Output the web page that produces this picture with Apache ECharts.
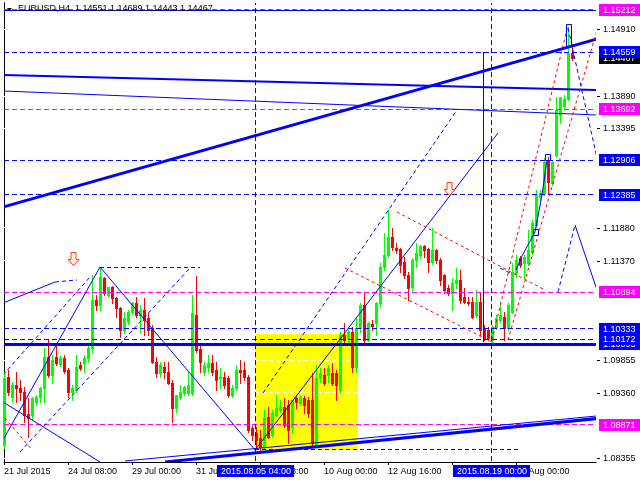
<!DOCTYPE html>
<html><head><meta charset="utf-8">
<script src="https://cdn.jsdelivr.net/npm/echarts@6/dist/echarts.min.js"></script>
<style>html,body{margin:0;padding:0;background:#fff}#c{width:640px;height:480px}</style>
</head><body><div id="c"></div>
<script>
// ---------- data ----------
const symbol = 'EURUSD,H4';
const openP = [
1.08558,1.09597,1.09292,1.09475,1.09429,1.09368,1.09032,1.09017,1.09215,1.09292,
1.09429,1.09903,1.09628,1.09903,1.09796,1.09888,1.09704,1.09368,1.09399,1.09781,
1.09811,1.09888,1.10041,1.10774,1.10698,1.11110,1.10850,1.10973,1.10805,1.10652,
1.10316,1.10438,1.10591,1.10728,1.10545,1.10621,1.10499,1.10346,1.09827,1.09659,
1.09750,1.09674,1.09506,1.09124,1.09292,1.09353,1.09353,1.09353,1.10545,1.10025,
1.09674,1.09750,1.09811,1.09704,1.09582,1.09597,1.09582,1.09322,1.09429,1.09704,
1.09704,1.09597,1.08818,1.08742,1.08665,1.08528,1.08986,1.08711,1.09017,1.09093,
1.09139,1.09170,1.08833,1.09277,1.09200,1.09277,1.09246,1.09246,1.08558,1.09582,
1.09628,1.09628,1.09659,1.09659,1.09399,1.10239,1.10193,1.10285,1.09750,1.10346,
1.10698,1.10163,1.10407,1.10423,1.10728,1.11278,1.11462,1.11737,1.11569,1.11553,
1.11355,1.11156,1.10973,1.11385,1.11462,1.11599,1.11553,1.11355,1.11538,1.11385,
1.11156,1.10957,1.10881,1.11034,1.11080,1.10820,1.10743,1.10743,1.10545,1.10743,
1.10346,1.10316,1.10163,1.10361,1.10468,1.10514,1.10346,1.10591,1.11187,1.11416,
1.11339,1.11339,1.11507,1.11920,1.12348,1.12409,1.12913,1.12562,1.12990,1.13601,
1.13738,1.13845,1.14551];
const highP = [
1.09674,1.09704,1.09521,1.09674,1.09552,1.09445,1.09277,1.09292,1.09322,1.09445,
1.10041,1.10163,1.09934,1.10086,1.09918,1.09934,1.09735,1.09475,1.09934,1.09827,
1.09934,1.10117,1.11156,1.10850,1.11278,1.11125,1.10973,1.10988,1.10820,1.10667,
1.10591,1.10621,1.10743,1.10820,1.10698,1.10805,1.10575,1.10392,1.09903,1.09827,
1.09827,1.09827,1.09552,1.09215,1.09475,1.09460,1.09674,1.10850,1.11141,1.10086,
1.09827,1.09934,1.09934,1.09827,1.09735,1.09674,1.09613,1.09475,1.09781,1.09857,
1.09827,1.09628,1.08849,1.08833,1.08788,1.09093,1.09139,1.09093,1.09322,1.09246,
1.09277,1.09246,1.09246,1.09322,1.09322,1.09307,1.09292,1.09659,1.09781,1.09735,
1.09735,1.09781,1.09811,1.09704,1.10285,1.10423,1.10316,1.10361,1.10499,1.10728,
1.10896,1.10438,1.10468,1.10743,1.11339,1.11798,1.12149,1.11874,1.11645,1.11569,
1.11431,1.11202,1.11416,1.11645,1.11614,1.11614,1.11569,1.11874,1.11553,1.11416,
1.11171,1.11003,1.11110,1.11263,1.11232,1.10957,1.10820,1.10820,1.10927,1.10896,
1.10392,1.10361,1.10392,1.10545,1.10743,1.10591,1.10728,1.11339,1.11462,1.11446,
1.11462,1.11844,1.11996,1.12455,1.12455,1.12944,1.12959,1.12913,1.13876,1.13876,
1.13906,1.14945,1.14689];
const lowP = [
1.08513,1.09322,1.09215,1.09215,1.09246,1.08910,1.08681,1.08940,1.09170,1.09215,
1.09215,1.09597,1.09506,1.09781,1.09766,1.09659,1.09292,1.09246,1.09368,1.09704,
1.09674,1.09827,1.09979,1.10621,1.10621,1.10850,1.10820,1.10728,1.10514,1.10209,
1.10270,1.10407,1.10560,1.10514,1.10285,1.10239,1.10239,1.09811,1.09597,1.09597,
1.09582,1.09490,1.08910,1.09063,1.09261,1.09322,1.09322,1.09322,1.09979,1.09674,
1.09628,1.09674,1.09628,1.09399,1.09429,1.09429,1.09292,1.09292,1.09399,1.09506,
1.09552,1.08757,1.08635,1.08513,1.08482,1.08513,1.08665,1.08681,1.09002,1.09063,
1.08833,1.08589,1.08742,1.09124,1.09170,1.09047,1.08986,1.08558,1.08528,1.09521,
1.09475,1.09521,1.09475,1.09246,1.09368,1.10117,1.10117,1.09674,1.09674,1.10285,
1.10117,1.10148,1.10316,1.10239,1.10667,1.11232,1.11431,1.11538,1.11492,1.11202,
1.11110,1.10774,1.10896,1.11278,1.11416,1.11431,1.11202,1.11324,1.11339,1.11003,
1.10881,1.10850,1.10621,1.10957,1.10728,1.10728,1.10698,1.10499,1.10514,1.10239,
1.10163,1.10163,1.10117,1.10331,1.10438,1.10163,1.10316,1.10575,1.11125,1.11278,
1.11110,1.11309,1.11477,1.11889,1.12302,1.12378,1.12409,1.12531,1.12959,1.13479,
1.13708,1.13830,1.14443];
const closeP = [
1.09582,1.09368,1.09475,1.09429,1.09368,1.09017,1.08971,1.09277,1.09292,1.09429,
1.09903,1.09628,1.09857,1.09811,1.09888,1.09689,1.09368,1.09429,1.09750,1.09735,
1.09888,1.10041,1.10774,1.10698,1.11125,1.10881,1.10973,1.10805,1.10652,1.10316,
1.10499,1.10591,1.10728,1.10545,1.10621,1.10468,1.10316,1.09827,1.09659,1.09781,
1.09674,1.09506,1.09124,1.09322,1.09368,1.09445,1.09475,1.10575,1.10010,1.09827,
1.09781,1.09811,1.09674,1.09552,1.09597,1.09475,1.09322,1.09429,1.09704,1.09674,
1.09597,1.08788,1.08711,1.08635,1.08528,1.08971,1.08681,1.09047,1.09124,1.09139,
1.08864,1.08788,1.09246,1.09215,1.09292,1.09170,1.09047,1.08589,1.09582,1.09659,
1.09506,1.09735,1.09506,1.09475,1.10239,1.10163,1.10285,1.09750,1.10346,1.10698,
1.10163,1.10423,1.10377,1.10728,1.11278,1.11462,1.11737,1.11584,1.11538,1.11309,
1.11156,1.10957,1.11385,1.11492,1.11599,1.11538,1.11355,1.11538,1.11385,1.11080,
1.10927,1.10881,1.11034,1.11080,1.10774,1.10743,1.10728,1.10514,1.10743,1.10316,
1.10193,1.10193,1.10361,1.10499,1.10545,1.10346,1.10698,1.11202,1.11385,1.11309,
1.11431,1.11538,1.11951,1.12378,1.12409,1.12883,1.12577,1.12883,1.13677,1.13876,
1.13845,1.14548,1.14467];

// x axis: H4 bars from 21 Jul 2015 16:00, plus empty bars on the right (chart shift)
const futureBars = 6;
const xTickEvery = 16;
const xTickLabels = ['21 Jul 2015','24 Jul 08:00','29 Jul 00:00','31 Jul 16:00','5 Aug 08:00',
                     '10 Aug 00:00','12 Aug 16:00','17 Aug 08:00','20 Aug 00:00'];
// y axis tick labels
const priceTicks = [1.14910,1.13890,1.13395,1.11880,1.11370,1.09855,1.09360,1.08355];
// horizontal levels
const magentaLevels = [1.15212,1.13692,1.10894,1.08871];
const blueDashLevels = [1.14559,1.12906,1.12385,1.10333,1.10172];
const blueThickLevels = [1.10095];
const blueThinLevels = [1.15190];
const currentPrice = closeP[closeP.length-1];
// vertical lines (bar index) and their time labels
const vLineBars = [62.75,121.75];
const vLineTimes = ['2015.08.05 04:00','2015.08.19 00:00'];
// drawn objects, [bar1, price1, bar2, price2]
const thickTrends = [[-0.25,1.12195,148.25,1.14762],[40.25,1.08299,148.25,1.08963]];
const mediumTrends = [[-0.25,1.14212,148.25,1.13983]];
const thinTrends = [
 [-0.25,1.13968,148.25,1.13601],[30.25,1.08314,148.25,1.09002],
 [-0.25,1.10728,12.75,1.11049],[-0.25,1.08635,24,1.11278],[24,1.11278,62.75,1.08482],
 [62.75,1.08482,123.5,1.13326],[-0.25,1.09215,24,1.08299],
 [119.75,1.14564,119.75,1.10132],[142.75,1.11920,148.25,1.10927],
 [128,1.11232,129.5,1.11446],[129.5,1.11446,132.75,1.11813],[132.75,1.11813,134.5,1.12378],[134.5,1.12378,135.75,1.12913]];
const blueDashed = [
 [12.75,1.11049,18.25,1.11080],[-0.25,1.09628,21.5,1.11125],[4,1.08451,46.5,1.11263],
 [64.75,1.09353,113.25,1.13677],[24,1.11278,49,1.11278],[62.75,1.08497,129,1.08497],
 [141,1.14930,148.25,1.12944],[138.5,1.10896,142.75,1.11920],[124,1.11263,127,1.11171]];
const redDashed = [
 [98.25,1.12119,135.25,1.10927],[85.25,1.11263,122,1.10132],
 [122,1.10163,141,1.14976],[126,1.10163,148.25,1.14900],[0.25,1.08971,7,1.08482]];
const markerBoxes = [[132.25,1.11859,133.5,1.11767],[135.25,1.13005,136.5,1.12913],[140.5,1.14991,141.75,1.14655]];
const arrowPoints = [[17.25,1.11400],[111.25,1.12470]];
const yellowRect = [[62.75,1.10262,88.6,1.08482]];

// ---------- chart ----------
const nBars = closeP.length + futureBars;
const categories = [];
(function(){
  let t = Date.UTC(2015,6,21,16);
  const pad = n => String(n).padStart(2,'0');
  while (categories.length < nBars) {
    const d = new Date(t), wd = d.getUTCDay();
    if (wd !== 0 && wd !== 6) categories.push(d.getUTCFullYear()+'.'+pad(d.getUTCMonth()+1)+'.'+pad(d.getUTCDate())+' '+pad(d.getUTCHours())+':00');
    t += 4*3600e3;
  }
})();
const candleRows = openP.map((o,i)=>[i, o, closeP[i], lowP[i], highP[i]]);
const Y_MIN = 1.082986, Y_MAX = 1.153122;
const FONT = '9px "Liberation Sans", Arial, sans-serif';
const BLUE = '#0000ff', MAG = '#ff00ff', RED = '#ff0000', LIME = '#00ff00';

function crisp(v, w){ return (Math.round(w)%2===1) ? Math.floor(v)+0.5 : Math.round(v); }
function segSeries(rows, color, width, dash, z){
  return {type:'custom', xAxisIndex:1, yAxisIndex:0, z:z, clip:true, silent:true, animation:false,
    data: rows, encode:{x:[0,2], y:[1,3]},
    renderItem:function(params, api){
      const a = api.coord([api.value(0), api.value(1)]), b = api.coord([api.value(2), api.value(3)]);
      let x1=a[0], y1=a[1], x2=b[0], y2=b[1];
      if (Math.abs(y1-y2)<0.01) { y1 = y2 = crisp(y1, width); }
      if (Math.abs(x1-x2)<0.01) { x1 = x2 = crisp(x1, width); }
      return {type:'line', shape:{x1,y1,x2,y2}, style:{stroke:color, lineWidth:width, lineDash:dash||null, fill:null}};
    }};
}
const hRows = levels => levels.map(v=>[-2, v, nBars+2, v]);
const vRows = bars => bars.map(b=>[b, 1.0, b, 1.3]);

function boxSeries(levels, bg, fg, z){
  return {type:'custom', xAxisIndex:1, yAxisIndex:0, z:z, clip:false, silent:true, animation:false,
    data: levels.map(v=>[nBars-1, v]),
    renderItem:function(params, api){
      const p = api.coord([api.value(0), api.value(1)]);
      const x = Math.round(p[0]) + 3, y = Math.round(p[1]);
      return {type:'group', children:[
        {type:'rect', shape:{x:x, y:y-6, width:44, height:12}, style:{fill:bg}},
        {type:'text', style:{text:api.value(1).toFixed(5), x:x+4, y:y+0.5, fill:fg, font:FONT,
          textAlign:'left', textVerticalAlign:'middle', align:'left', verticalAlign:'middle'}}
      ]};
    }};
}

const series = [
  // yellow rectangle (background)
  {type:'custom', xAxisIndex:1, yAxisIndex:0, z:1, clip:true, silent:true, animation:false,
   data: yellowRect, encode:{x:[0,2], y:[1,3]},
   renderItem:function(params, api){
     const a = api.coord([api.value(0), api.value(1)]), b = api.coord([api.value(2), api.value(3)]);
     return {type:'rect', shape:{x:Math.round(a[0]), y:Math.round(a[1]), width:Math.round(b[0]-a[0]), height:Math.round(b[1]-a[1])}, style:{fill:'#ffff00'}};
   }},
  // grid lines (white, visible only on the rectangle)
  segSeries(hRows(priceTicks), '#ffffff', 1, [4,3], 1.5),
  // candles: open, close, low, high per bar
  {type:'custom', name:symbol, xAxisIndex:1, yAxisIndex:0, z:3, clip:false, silent:true, animation:false,
   data: candleRows, encode:{x:0, y:[1,2,3,4]},
   renderItem:function(params, api){
     const i = api.value(0), o = api.value(1), c = api.value(2), l = api.value(3), h = api.value(4);
     const col = c >= o ? LIME : RED;
     const x = Math.floor(api.coord([i, o])[0]);
     const yo = Math.round(api.coord([i, o])[1]), yc = Math.round(api.coord([i, c])[1]);
     const yl = Math.round(api.coord([i, l])[1]), yh = Math.round(api.coord([i, h])[1]);
     const top = Math.min(yo, yc), bot = Math.max(yo, yc);
     return {type:'group', children:[
       {type:'rect', shape:{x:x, y:yh, width:1, height:Math.max(1, yl-yh+1)}, style:{fill:col}},
       {type:'rect', shape:{x:x-1, y:top, width:3, height:Math.max(1, bot-top+1)}, style:{fill:col}}
     ]};
   }},
  // objects
  segSeries(hRows(magentaLevels), MAG, 1, [5,3], 4),
  segSeries(hRows(blueDashLevels), BLUE, 1, [5,3], 4),
  segSeries(hRows(blueThinLevels), BLUE, 1, null, 4),
  segSeries(hRows(blueThickLevels), BLUE, 3, null, 4),
  segSeries(vRows(vLineBars), BLUE, 1, [5,3], 4),
  segSeries(thickTrends, BLUE, 3, null, 4),
  segSeries(mediumTrends, BLUE, 2, null, 4),
  segSeries(thinTrends, BLUE, 1, null, 4),
  segSeries(blueDashed, BLUE, 1, [4,3], 4),
  segSeries(redDashed, RED, 1, [3,3], 4),
  // marker boxes
  {type:'custom', xAxisIndex:1, yAxisIndex:0, z:5, clip:true, silent:true, animation:false,
   data: markerBoxes, encode:{x:[0,2], y:[1,3]},
   renderItem:function(params, api){
     const a = api.coord([api.value(0), api.value(1)]), b = api.coord([api.value(2), api.value(3)]);
     return {type:'rect', shape:{x:Math.round(a[0])+0.5, y:Math.round(a[1])+0.5, width:Math.round(b[0]-a[0]), height:Math.round(b[1]-a[1])}, style:{fill:null, stroke:BLUE, lineWidth:1}};
   }},
  // arrows
  {type:'custom', xAxisIndex:1, yAxisIndex:0, z:5, clip:true, silent:true, animation:false,
   data: arrowPoints, encode:{x:0, y:1},
   renderItem:function(params, api){
     const p = api.coord([api.value(0), api.value(1)]);
     const x = Math.round(p[0])+0.5, y = Math.round(p[1])+0.5;
     const pts = [[-2.5,-7],[2.5,-7],[2.5,0],[5.5,0],[0,6],[-5.5,0],[-2.5,0]].map(q=>[x+q[0], y+q[1]]);
     return {type:'polygon', shape:{points:pts}, style:{fill:'#fff2e6', stroke:'#ff4010', lineWidth:1}};
   }},
  // right axis tick labels
  {type:'custom', xAxisIndex:1, yAxisIndex:0, z:8, clip:false, silent:true, animation:false,
   data: priceTicks.map(v=>[nBars-1, v]),
   renderItem:function(params, api){
     const p = api.coord([api.value(0), api.value(1)]);
     const x = Math.round(p[0]), y = Math.round(p[1]);
     return {type:'group', children:[
       {type:'line', shape:{x1:x+1, y1:y+0.5, x2:x+4, y2:y+0.5}, style:{stroke:'#000', lineWidth:1}},
       {type:'text', style:{text:api.value(1).toFixed(5), x:x+7, y:y+0.5, fill:'#000', font:FONT,
         textAlign:'left', textVerticalAlign:'middle', align:'left', verticalAlign:'middle'}}
     ]};
   }},
  boxSeries([currentPrice], '#000000', '#ffffff', 9),
  boxSeries(blueThickLevels, BLUE, '#ffffff', 10),
  boxSeries(blueDashLevels.slice().reverse(), BLUE, '#ffffff', 11),
  boxSeries(magentaLevels, MAG, '#ffffff', 12),
  // time boxes for the vertical lines
  {type:'custom', xAxisIndex:1, yAxisIndex:0, z:12, clip:false, silent:true, animation:false,
   data: vLineBars.map((b,k)=>[b, Y_MIN, k]),
   renderItem:function(params, api){
     const p = api.coord([api.value(0), api.value(1)]);
     const x = Math.round(p[0]), y = Math.round(p[1]);
     return {type:'group', children:[
       {type:'rect', shape:{x:x-38, y:y+3, width:77, height:12}, style:{fill:BLUE}},
       {type:'text', style:{text:vLineTimes[api.value(2)], x:x+1, y:y+9.5, fill:'#fff', font:FONT,
         textAlign:'center', textVerticalAlign:'middle', align:'center', verticalAlign:'middle'}}
     ]};
   }}
];

const tickShown = idx => idx % xTickEvery === 0 && idx/xTickEvery < xTickLabels.length;
const title = symbol + '  ' + [openP, highP, lowP, closeP].map(a=>a[a.length-1].toFixed(5)).join(' ');

const option = {
  animation:false,
  backgroundColor:'#ffffff',
  grid:{left:4, right:44, top:3, bottom:18, containLabel:false},
  xAxis:[
    {type:'category', data:categories, boundaryGap:false,
     axisLine:{show:true, lineStyle:{color:'#000', width:1}},
     axisTick:{show:true, length:3, interval:(i)=>tickShown(i), lineStyle:{color:'#000'}},
     axisLabel:{show:true, interval:(i)=>tickShown(i), formatter:(v,i)=>xTickLabels[i/xTickEvery],
       color:'#000', fontFamily:'Liberation Sans', fontSize:9, align:'left', margin:5},
     splitLine:{show:false}},
    {type:'value', min:0, max:nBars-1, show:false}
  ],
  yAxis:[
    {type:'value', min:Y_MIN, max:Y_MAX, position:'right', scale:true,
     axisLine:{show:true, lineStyle:{color:'#000'}}, axisTick:{show:false}, axisLabel:{show:false}, splitLine:{show:false}},
    {type:'value', min:Y_MIN, max:Y_MAX, position:'left', scale:true,
     axisLine:{show:true, lineStyle:{color:'#000'}}, axisTick:{show:false}, axisLabel:{show:false}, splitLine:{show:false}}
  ],
  graphic:[
    {type:'polygon', shape:{points:[[7,8],[12,8],[9.5,11]]}, style:{fill:'#000'}, z:20},
    {type:'text', left:18, top:4, style:{text:title, font:FONT, fill:'#000'}, z:20}
  ],
  series: series
};
const chart = echarts.init(document.getElementById('c'), null, {renderer:'canvas'});
chart.setOption(option);
</script></body></html>
